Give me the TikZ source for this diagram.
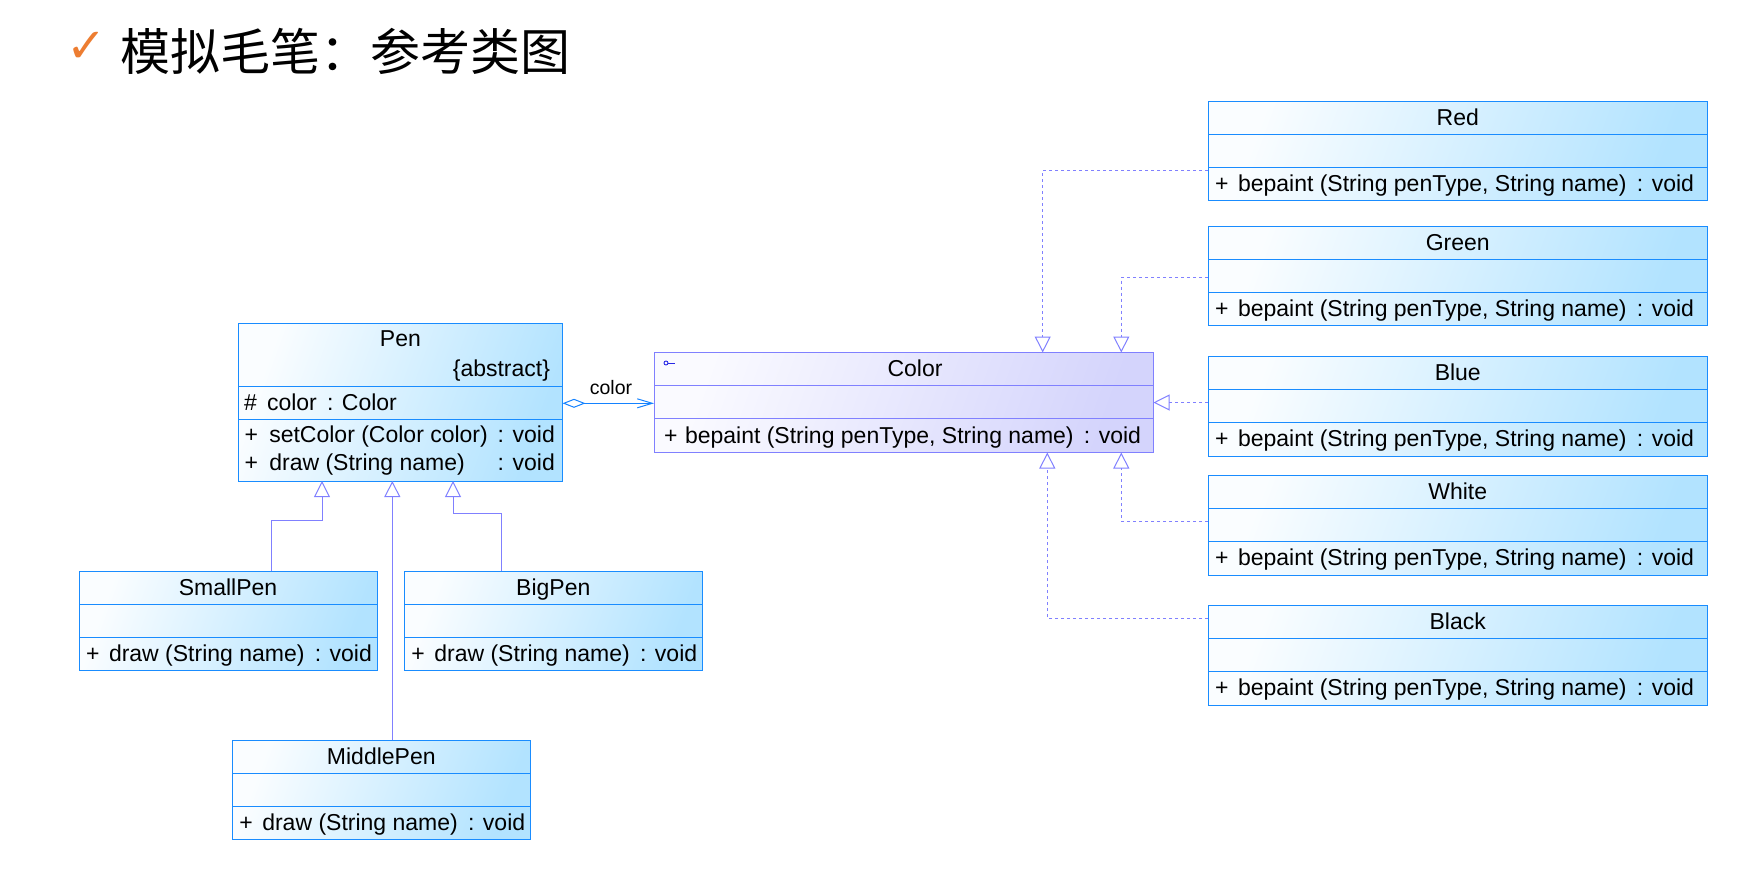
\documentclass[tikz,border=0pt]{standalone}
\usepackage{fontspec}
\setmainfont{Liberation Sans}
\newfontfamily\cjkfont{Noto Sans CJK SC}
\newfontfamily\symfont{DejaVu Sans}
\usetikzlibrary{arrows.meta}
\definecolor{clsline}{RGB}{25,140,255}
\definecolor{clsA}{RGB}{250,253,255}
\definecolor{clsB}{RGB}{178,227,255}
\definecolor{clrline}{RGB}{128,128,255}
\definecolor{clrA}{RGB}{250,250,255}
\definecolor{clrB}{RGB}{212,212,252}
\definecolor{lav}{RGB}{128,128,255}
\definecolor{aggblue}{RGB}{20,130,255}
\definecolor{checkorange}{RGB}{237,125,49}
\definecolor{iconblue}{RGB}{40,40,230}
\tikzset{
  cls/.style={draw=clsline, line width=1pt, top color=clsA, bottom color=clsB, shading angle=70,
    rectangle, inner sep=0pt, outer sep=0pt, anchor=north west},
  clr/.style={draw=clrline, line width=1pt, top color=clrA, bottom color=clrB, shading angle=70,
    rectangle, inner sep=0pt, outer sep=0pt, anchor=north west},
  div/.style={draw=clsline, line width=1pt},
  cdiv/.style={draw=clrline, line width=1pt},
  txt/.style={inner sep=0pt, outer sep=0pt, font=\fontsize{23}{27}\selectfont, text=black},
  lbl/.style={inner sep=0pt, outer sep=0pt, font=\fontsize{19.5}{23}\selectfont, text=black},
  gen/.style={draw=lav, line width=1pt, -{Triangle[open, length=16pt, width=16pt]}},
  real/.style={gen, dash pattern=on 3pt off 3pt},
  agg/.style={draw=aggblue, line width=1pt, {Diamond[open, length=23pt, width=9pt]}-{Straight Barb[length=15pt, width=9pt]}}
}
\newcommand\colorclass[3]{%
  \node[cls, minimum width=499.5pt, minimum height=99.5pt] (#1) at (1208,#3) {};
  \draw[div] ([yshift=-33pt]#1.north west) -- ([yshift=-33pt]#1.north east);
  \draw[div] ([yshift=-66pt]#1.north west) -- ([yshift=-66pt]#1.north east);
  \node[txt, anchor=base] (#1-n) at ([yshift=-24pt]#1.north) {#2};
  \node[txt, anchor=base west] (#1-p) at ([xshift=7pt, yshift=-90pt]#1.north west) {+};
  \node[txt, anchor=base west] (#1-m) at ([xshift=30pt, yshift=-90pt]#1.north west) {bepaint (String penType, String name)\, : void};
}
\newcommand\penclass[4]{%
  \node[cls, minimum width=298pt, minimum height=99pt] (#1) at (#3,#4) {};
  \draw[div] ([yshift=-33pt]#1.north west) -- ([yshift=-33pt]#1.north east);
  \draw[div] ([yshift=-66pt]#1.north west) -- ([yshift=-66pt]#1.north east);
  \node[txt, anchor=base] (#1-n) at ([yshift=-24pt]#1.north) {#2};
  \node[txt, anchor=base west] (#1-p) at ([xshift=7pt, yshift=-90pt]#1.north west) {+};
  \node[txt, anchor=base west] (#1-m) at ([xshift=30pt, yshift=-90pt]#1.north west) {draw (String name)\, : void};
}
\begin{document}
\begin{tikzpicture}[x=1pt, y=-1pt]
\useasboundingbox[fill=white] (0,0) rectangle (1740,868);

% title
\node[inner sep=0pt, font=\symfont\fontsize{48}{50}\selectfont, text=checkorange] (check) at (87,47) {✓};
\node[inner sep=0pt, anchor=base west, font=\cjkfont\fontsize{50}{60}\selectfont] (title) at (120,70) {模拟毛笔：参考类图};

% Pen
\node[cls, minimum width=324pt, minimum height=157.5pt] (pen) at (238.5,323.5) {};
\draw[div] ([yshift=-62.5pt]pen.north west) -- ([yshift=-62.5pt]pen.north east);
\draw[div] ([yshift=-95.5pt]pen.north west) -- ([yshift=-95.5pt]pen.north east);
\node[txt, anchor=base] (pen-n) at (400.4,346) {Pen};
\node[txt, anchor=base east] (pen-abs) at (550,376) {\{abstract\}};
\node[txt, anchor=base west] (pen-h) at (244,410) {\#};
\node[txt, anchor=base west] (pen-a) at (267,410) {color};
\node[txt, anchor=base west] (pen-at) at (327,410) {: Color};
\node[txt, anchor=base west] (pen-p1) at (244.5,442.7) {+};
\node[txt, anchor=base west] (pen-m1) at (269.3,442.7) {setColor (Color color)};
\node[txt, anchor=base west] (pen-t1) at (497.7,442.7) {: void};
\node[txt, anchor=base west] (pen-p2) at (244.5,470) {+};
\node[txt, anchor=base west] (pen-m2) at (269.3,470) {draw (String name)};
\node[txt, anchor=base west] (pen-t2) at (497.7,470) {: void};

% Color
\node[clr, minimum width=499.5pt, minimum height=100pt] (color) at (654,352.5) {};
\draw[cdiv] ([yshift=-32.5pt]color.north west) -- ([yshift=-32.5pt]color.north east);
\draw[cdiv] ([yshift=-66pt]color.north west) -- ([yshift=-66pt]color.north east);
\draw[iconblue, line width=0.9pt] (666,363) circle (2pt);
\draw[iconblue, line width=0.9pt] (668,363) -- (674.5,363);
\node[txt, anchor=base] (color-n) at (915,376) {Color};
\node[txt, anchor=base west] (color-p) at (664,443) {+};
\node[txt, anchor=base west] (color-m) at (685,443) {bepaint (String penType, String name)\, : void};

% colour classes
\colorclass{red}{Red}{101}
\colorclass{green}{Green}{226.3}
\colorclass{blue}{Blue}{356.5}
\colorclass{white}{White}{475.5}
\colorclass{black}{Black}{605.7}

% pen subclasses
\penclass{smallpen}{SmallPen}{79}{571.3}
\penclass{bigpen}{BigPen}{404.3}{571.3}
\penclass{middlepen}{MiddlePen}{232.3}{740.3}

% bend coordinates
\coordinate (r1) at (1042.7,170.3);
\coordinate (g1) at (1121.3,277.3);
\coordinate (b1) at (1180,402.5);
\coordinate (w1) at (1121.3,521.3);
\coordinate (k1) at (1047.3,618.3);
\coordinate (s1) at (271.3,520.3);
\coordinate (s2) at (322,520.3);
\coordinate (m1) at (392.3,600);
\coordinate (bp1) at (501.3,513.7);
\coordinate (bp2) at (453,513.7);
\coordinate (a1) at (600,403.3);

% realizations
\draw[real] (red.west |- r1) -| (color.north -| r1);
\draw[real] (green.west |- g1) -| (color.north -| g1);
\draw[real] (blue.west |- b1) -- (color.east |- b1);
\draw[real] (white.west |- w1) -| (color.south -| w1);
\draw[real] (black.west |- k1) -| (color.south -| k1);

% generalizations
\draw[gen] (smallpen.north -| s1) |- (s2) -- (pen.south -| s2);
\draw[gen] (middlepen.north -| m1) -- (pen.south -| m1);
\draw[gen] (bigpen.north -| bp1) |- (bp2) -- (pen.south -| bp2);

% aggregation
\draw[agg] (pen.east |- a1) -- (color.west |- a1);
\node[lbl, anchor=base] (agg-l) at (611,394) {color};
\end{tikzpicture}
\end{document}
